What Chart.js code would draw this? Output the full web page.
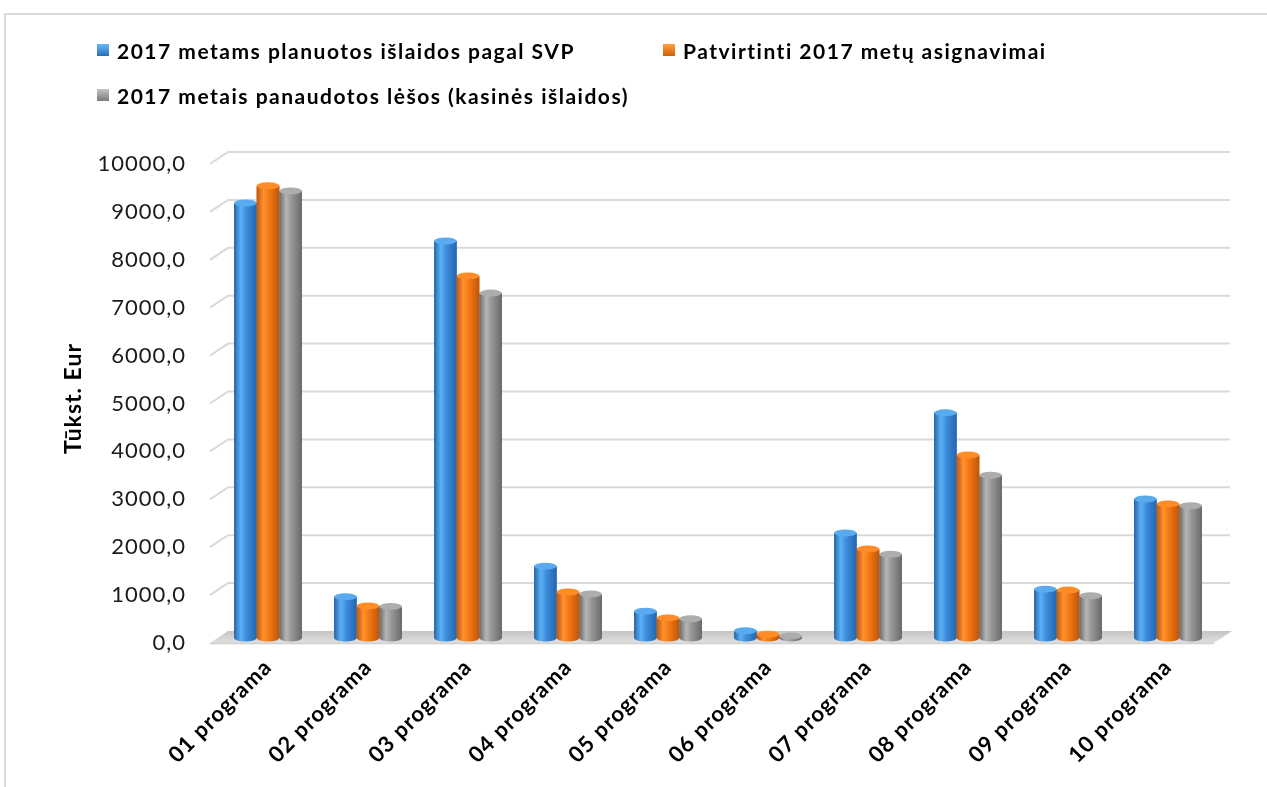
<!DOCTYPE html>
<html>
<head>
<meta charset="utf-8">
<script src="https://cdn.jsdelivr.net/npm/chart.js@4.4.1/dist/chart.umd.min.js"></script>
<style>
  html, body { margin: 0; padding: 0; background: #fff; }
  body { width: 1267px; height: 787px; position: relative; overflow: hidden; font-family: Lato, "Open Sans", sans-serif; }
  #frame { position: absolute; left: 4px; top: 13px; width: 1400px; height: 900px; border-top: 2px solid #d9d9d9; border-left: 2px solid #d9d9d9; }
  #chart { position: absolute; left: 0; top: 0; }
  #legend { position: absolute; left: 97px; top: 37px; display: grid; grid-template-columns: 566px 566px; row-gap: 19px; }
  .item { display: flex; align-items: center; font-weight: bold; font-size: 21px; letter-spacing: 1.5px; color: #000; height: 26px; white-space: nowrap; }
  .mk { width: 12px; height: 12px; margin-right: 8px; }
</style>
</head>
<body>
<div id="frame"></div>
<canvas id="chart" width="1267" height="787"></canvas>
<div id="legend"></div>
<script>
const categories = ["01 programa","02 programa","03 programa","04 programa","05 programa","06 programa","07 programa","08 programa","09 programa","10 programa"];
const seriesNames = ["2017 metams planuotos išlaidos pagal SVP","Patvirtinti 2017 metų asignavimai","2017 metais panaudotos lėšos (kasinės išlaidos)"];
const planned  = [9080, 860, 8290, 1500, 560, 150, 2190, 4700, 1020, 2900];
const approved = [9440, 670, 7560, 960, 420, 80, 1860, 3820, 1000, 2800];
const used     = [9330, 660, 7200, 920, 400, 40, 1750, 3400, 880, 2760];
const yTicks = [0,1000,2000,3000,4000,5000,6000,7000,8000,9000,10000];
const yAxisTitle = "Tūkst. Eur";

const palettes = [
  { base: "#3b8ddb", dark: "#2565ab", light: "#5cb0f5", cap: "#5aaaf0", mk1: "#6ab8f7", mk2: "#2a6fb8" },
  { base: "#f27712", dark: "#c0560a", light: "#ff9230", cap: "#ff8c26", mk1: "#ffa040", mk2: "#d0600a" },
  { base: "#959595", dark: "#6a6a6a", light: "#b4b4b4", cap: "#adadad", mk1: "#c4c4c4", mk2: "#7a7a7a" }
];

const lg = document.getElementById('legend');
seriesNames.forEach((n, i) => {
  const d = document.createElement('div'); d.className = 'item';
  const m = document.createElement('span'); m.className = 'mk';
  m.style.background = `linear-gradient(to bottom, ${palettes[i].mk1}, ${palettes[i].mk2})`;
  d.appendChild(m); d.appendChild(document.createTextNode(n));
  lg.appendChild(d);
});

const fmt = v => v.toFixed(1).replace('.', ',');

const spacing = {
  id: 'spacing',
  beforeUpdate(chart) { chart.ctx.letterSpacing = '1px'; },
  beforeDraw(chart) { chart.ctx.letterSpacing = '1px'; }
};

const scene3d = {
  id: 'scene3d',
  beforeDatasetsDraw(chart) {
    const { ctx, chartArea, scales: { y } } = chart;
    const L = chartArea.left, R = chartArea.right;
    ctx.save();
    ctx.strokeStyle = '#d9d9d9';
    ctx.lineWidth = 2;
    yTicks.forEach(v => {
      if (v === 0) return;
      const p = y.getPixelForValue(v);
      ctx.beginPath();
      ctx.moveTo(L - 8, p + 5);
      ctx.lineTo(L + 10, p - 7);
      ctx.lineTo(R + 12, p - 7);
      ctx.stroke();
    });
    const p0 = y.getPixelForValue(0);
    const g = ctx.createLinearGradient(0, p0 - 7, 0, p0 + 6);
    g.addColorStop(0, '#c4c4c4');
    g.addColorStop(1, '#e2e2e2');
    ctx.fillStyle = g;
    ctx.beginPath();
    ctx.moveTo(L - 8, p0 + 5);
    ctx.lineTo(L + 10, p0 - 7);
    ctx.lineTo(R + 14, p0 - 7);
    ctx.lineTo(R - 4, p0 + 5);
    ctx.closePath();
    ctx.fill();
    ctx.strokeStyle = '#d0d0d0';
    ctx.lineWidth = 1.5;
    ctx.beginPath();
    ctx.moveTo(L - 8, p0 + 5.5);
    ctx.lineTo(R - 4, p0 + 5.5);
    ctx.stroke();
    ctx.restore();
  },
  afterDatasetsDraw(chart) {
    const { ctx } = chart;
    ctx.save();
    chart.data.datasets.forEach((ds, di) => {
      const pal = palettes[di];
      chart.getDatasetMeta(di).data.forEach(el => {
        const w = el.width, x0 = el.x - w / 2, x1 = el.x + w / 2;
        const top = el.y, bot = el.base, ry = 3.5;
        const g = ctx.createLinearGradient(x0, 0, x1, 0);
        g.addColorStop(0, pal.dark);
        g.addColorStop(0.3, pal.light);
        g.addColorStop(0.55, pal.base);
        g.addColorStop(1, pal.dark);
        ctx.fillStyle = g;
        ctx.fillRect(x0, top, w, bot - top);
        ctx.beginPath();
        ctx.ellipse(el.x, bot, w / 2, ry, 0, 0, Math.PI);
        ctx.fill();
        ctx.fillStyle = pal.cap;
        ctx.beginPath();
        ctx.ellipse(el.x, top, w / 2, ry, 0, 0, Math.PI * 2);
        ctx.fill();
      });
    });
    ctx.restore();
  }
};

new Chart(document.getElementById('chart'), {
  type: 'bar',
  data: {
    labels: categories,
    datasets: [planned, approved, used].map((vals, i) => ({
      label: seriesNames[i],
      data: vals,
      backgroundColor: palettes[i].base,
      categoryPercentage: 0.68,
      barPercentage: 1.0
    }))
  },
  options: {
    responsive: false,
    animation: false,
    layout: { padding: { left: 60, right: 49, top: 159, bottom: 0 } },
    plugins: { legend: { display: false }, tooltip: { enabled: false } },
    scales: {
      y: {
        min: 0, max: 10000,
        afterBuildTicks: s => { s.ticks = yTicks.map(v => ({ value: v })); },
        afterFit: s => { s.width = 158; },
        grid: { display: false },
        border: { display: false },
        ticks: {
          callback: v => fmt(v),
          font: { family: 'Lato', size: 22 },
          color: '#1a1a1a',
          padding: 24,
          labelOffset: 5
        },
        title: {
          display: true, text: yAxisTitle,
          font: { family: 'Lato', size: 23, weight: 'bold' },
          color: '#000',
          padding: { top: 0, bottom: 0 }
        }
      },
      x: {
        afterFit: s => { s.height = 149; },
        grid: { display: false },
        border: { display: false },
        ticks: {
          font: { family: 'Lato', size: 22, weight: 'bold' },
          color: '#000',
          minRotation: 45, maxRotation: 45,
          padding: 8
        }
      }
    }
  },
  plugins: [spacing, scene3d]
});
</script>
</body>
</html>
